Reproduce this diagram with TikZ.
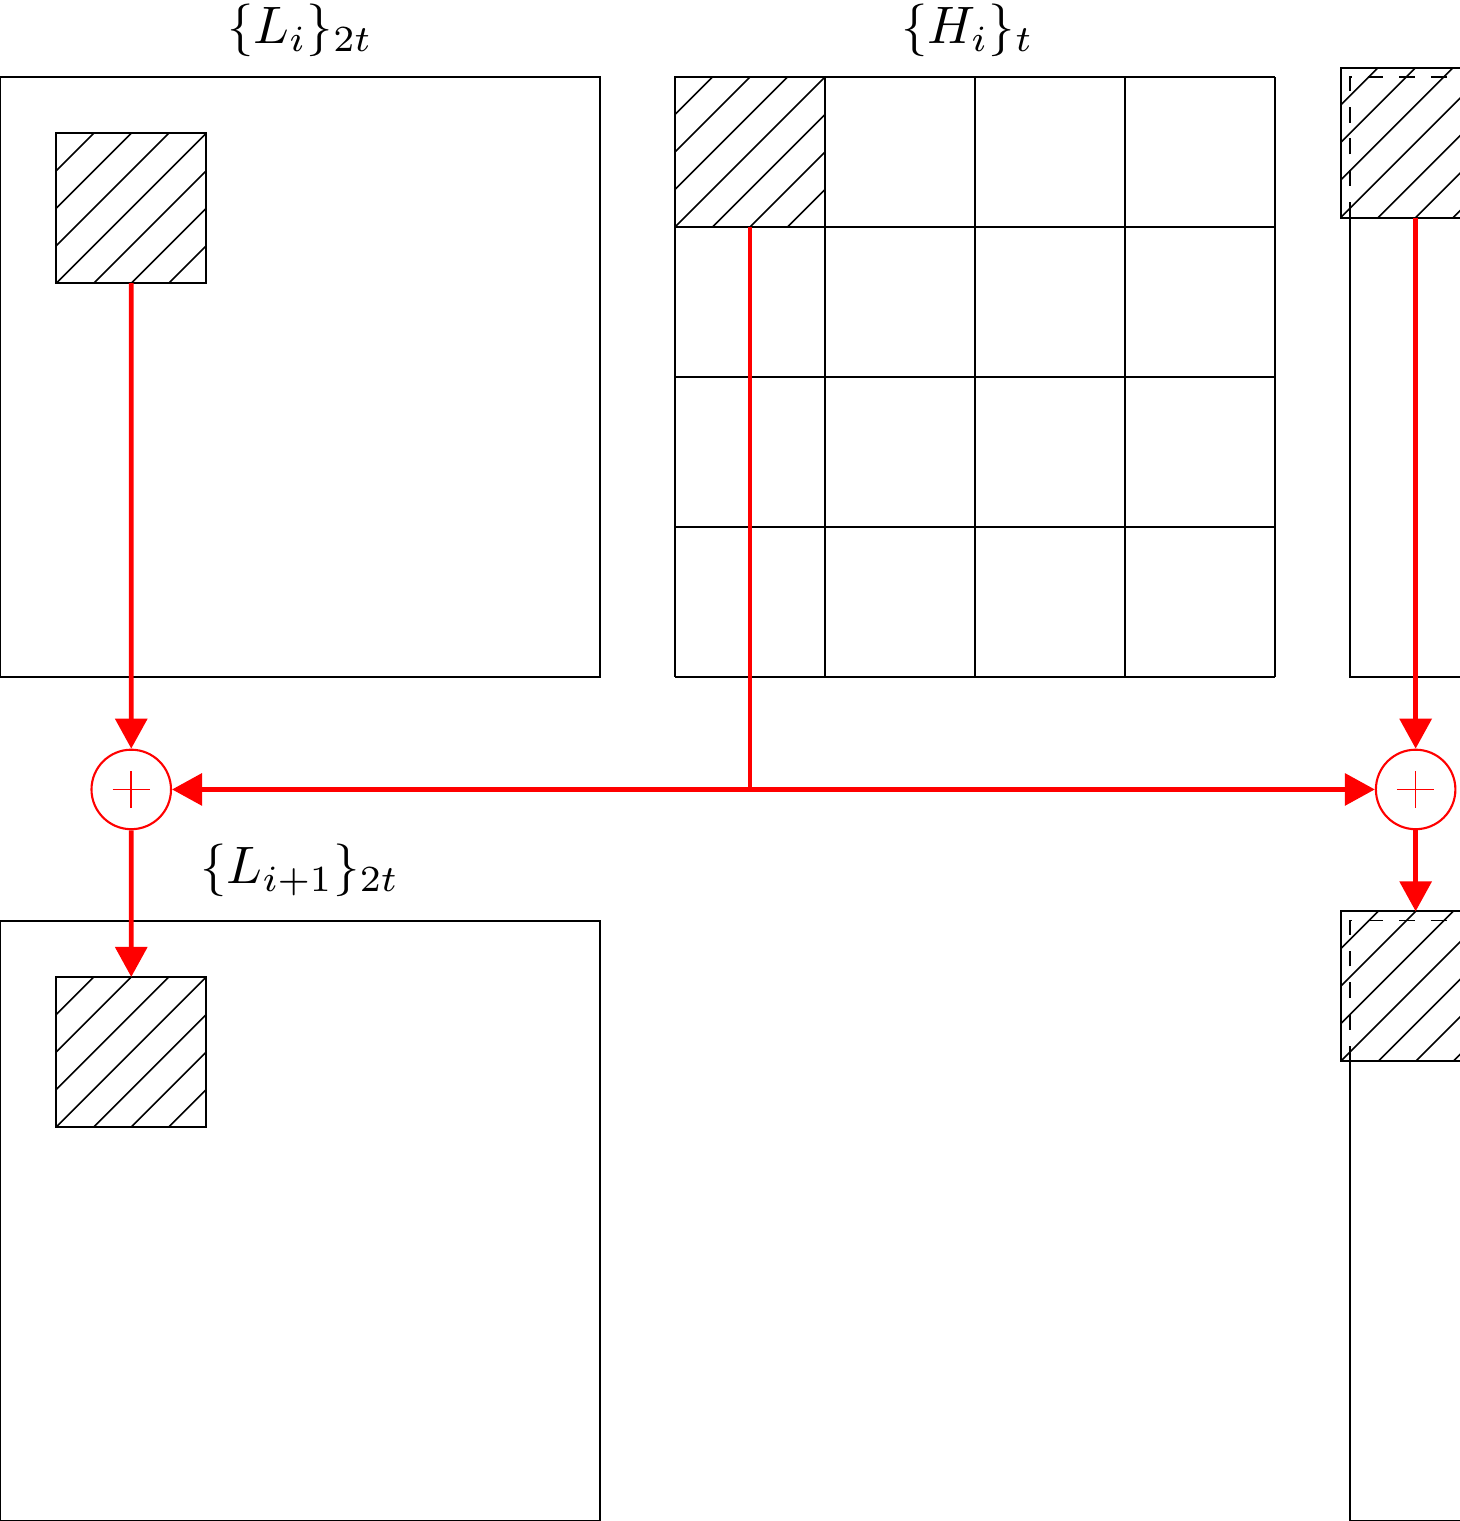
\documentclass[tikz,border=0pt]{standalone}
\usepackage{amsmath}
\usetikzlibrary{arrows.meta}

\tikzset{
  hatchbox/.style={draw, fill=white, minimum size=1cm, inner sep=0pt, outer sep=0pt,
    path picture={\foreach \c in {-0.75,-0.5,...,0.75}
      \draw[line width=0.3pt] ([xshift=\c cm]path picture bounding box.south west) -- ++(1,1);}},
  sumnode/.style={circle, draw=red, minimum size=0.53cm, inner sep=0pt,
    path picture={\draw[red, line width=0.3pt]
      ([xshift=-0.125cm]path picture bounding box.center) -- ([xshift=0.125cm]path picture bounding box.center)
      ([yshift=-0.125cm]path picture bounding box.center) -- ([yshift=0.125cm]path picture bounding box.center);}},
  redline/.style={red, line width=0.9pt},
  redarrow/.style={redline, -{Triangle[length=0.2cm, width=0.21cm]}}
}

\begin{document}
\begin{tikzpicture}
	\useasboundingbox (0,0.513) rectangle (9.727,-9.627);
	% low-pass blocks
	\draw (0,0) rectangle (4,-4);
	\draw (0,-5.625) rectangle (4,-9.625);
	\node[anchor=base] (labL) at (2,0.225) {$\{L_i\}_{2t}$};
	\node[anchor=base] (labLn) at (2,-5.38) {$\{L_{i+1}\}_{2t}$};
	\node[hatchbox, anchor=north west] (pL) at (0.375,-0.375) {};
	\node[hatchbox, anchor=north west] (pLn) at (0.375,-6) {};
	% high-pass grid
	\draw[shift={(4.5,0)}] (0,0) grid (4,-4);
	\node[anchor=base] (labH) at (6.45,0.225) {$\{H_i\}_t$};
	\node[hatchbox, anchor=north west] (pH) at (4.5,0) {};
	% right blocks
	\draw (9,0) rectangle (13,-4);
	\draw (9,-5.625) rectangle (13,-9.625);
	\node[hatchbox, anchor=north west] (pR) at (8.9375,0.0625) {};
	\node[hatchbox, anchor=north west] (pRn) at (8.9375,-5.5625) {};
	\draw[dashed, line width=0.3pt] (9,-0.9375) |- (pR.east |- 9,0);
	\draw[dashed, line width=0.3pt] (9,-6.5625) |- (pRn.east |- 9,-5.625);
	% sums
	\node[sumnode] (sumL) at (0.875,-4.75) {};
	\node[sumnode] (sumR) at (pR.south |- sumL) {};
	\coordinate (split) at (pH.south |- sumL);
	\draw[redarrow] (pL.south) -- (sumL.north);
	\draw[redarrow] (sumL.south) -- (pLn.north);
	\draw[redarrow] (pR.south) -- (sumR.north);
	\draw[redarrow] (sumR.south) -- (pRn.north);
	\draw[redline] (pH.south) -- (split);
	\draw[redarrow] (split) -- (sumL.east);
	\draw[redarrow] (split) -- (sumR.west);
\end{tikzpicture}
\end{document}
